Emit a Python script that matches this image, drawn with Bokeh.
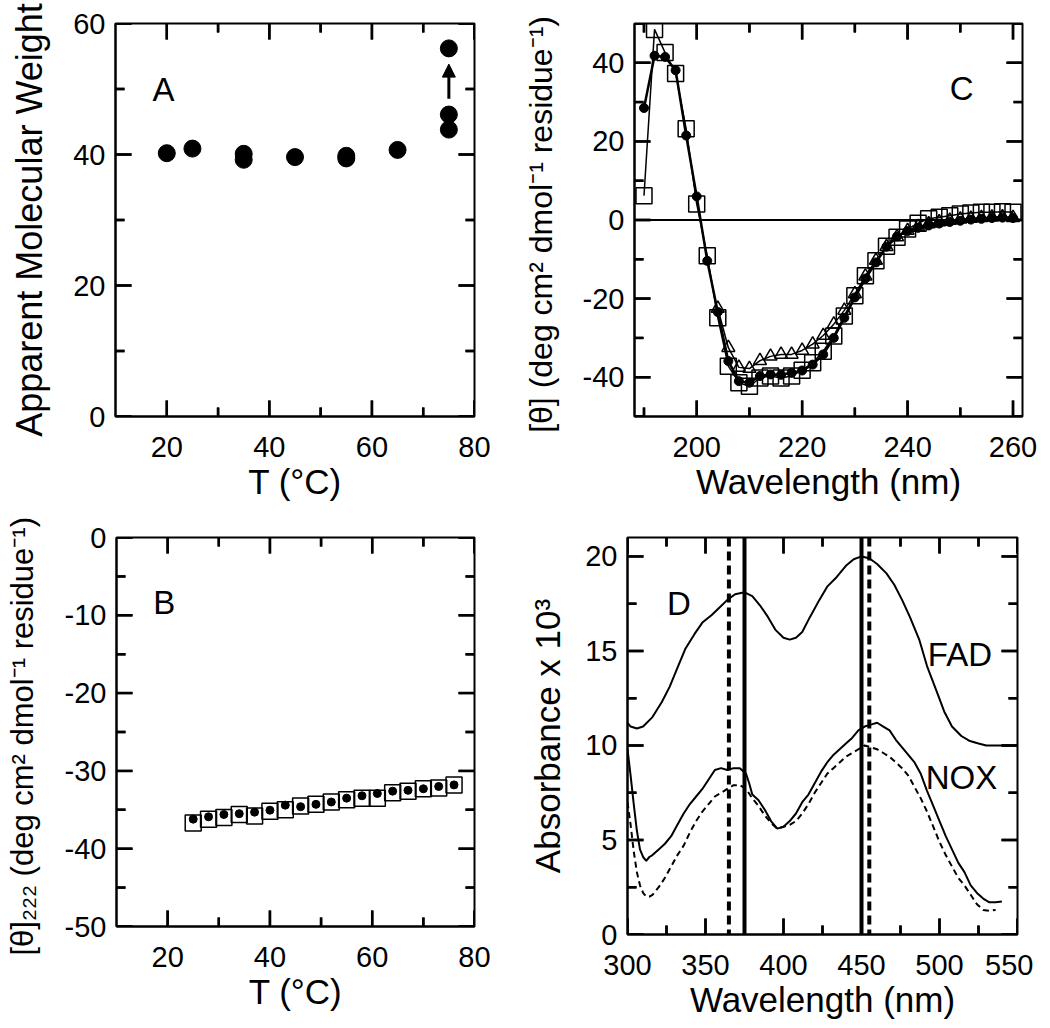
import math
from bokeh.plotting import figure
from bokeh.models import (Range1d, FixedTicker, LinearAxis, Span, Arrow, NormalHead,
                          CustomJSTickFormatter)
from bokeh.layouts import row, column
from bokeh.core.properties import value
from bokeh.embed import file_html
from bokeh.resources import INLINE

FONT = "Liberation Sans"

# ---------------- Panel A data ----------------
a_temp = [20, 25, 35, 35, 45, 55, 55, 65, 75, 75, 75]
a_mw = [40.2, 40.9, 40.1, 39.2, 39.6, 39.8, 39.4, 40.7, 43.8, 46.1, 56.2]
a_arrow_x = [75, 75]
a_arrow_y = [48.5, 53.8]

# ---------------- Panel B data ----------------
b_temp = [25, 28, 31, 34, 37, 40, 43, 46, 49, 52, 55, 58, 61, 64, 67, 70, 73, 76]
b_squares = [-36.7, -36.2, -36.0, -35.6, -35.8, -35.2, -35.0, -34.5, -34.3, -34.0,
             -33.7, -33.5, -33.5, -32.8, -32.6, -32.3, -32.2, -31.8]
b_circles = [-36.2, -35.9, -35.6, -35.5, -35.3, -35.05, -34.4, -34.6, -34.3, -34.0,
             -33.5, -33.2, -32.9, -32.6, -32.5, -32.3, -32.0, -31.8]

# ---------------- Panel C data ----------------
c_wl = [190, 192, 194, 196, 198, 200, 202, 204, 206, 208, 210, 212, 214, 216, 218, 220,
        222, 224, 226, 228, 230, 232, 234, 236, 238, 240, 242, 244, 246, 248, 250, 252,
        254, 256, 258, 260]
c_circles = [28.5, 41.8, 41.5, 38.1, 21.5, 6.0, -10.4, -23.4, -35.9, -41.0, -41.4, -39.7,
             -39.3, -39.4, -38.9, -38.3, -36.8, -34.2, -30.0, -24.9, -19.7, -14.9, -10.8,
             -6.8, -4.2, -2.8, -2.0, -1.4, -0.9, -0.5, -0.2, 0.1, 0.3, 0.5, 0.6, 0.5]
c_squares = [6.2, 48.5, 42.6, 37.3, 23.2, 4.1, -9.1, -24.9, -37.2, -41.4, -42.3, -40.2,
             -39.7, -40.2, -39.7, -38.2, -36.3, -33.4, -29.5, -24.4, -19.3, -14.2, -10.4,
             -6.7, -4.4, -2.3, -0.8, 0.3, 0.7, 1.1, 1.5, 1.8, 2.0, 2.0, 2.1, 2.0]
c_tri_wl = [204, 206, 208, 210, 212, 214, 216, 218, 220, 222, 224, 226, 228, 230, 232,
            234, 236, 238, 240, 242, 244, 246, 248, 250, 252, 254, 256, 258, 260]
c_triangles = [-22.5, -32.5, -37.5, -37.8, -35.8, -34.7, -34.2, -34.2, -33.2, -31.6, -29.4,
               -26.5, -23.0, -18.8, -14.3, -10.3, -6.8, -4.3, -2.7, -1.7, -1.0, -0.5, -0.1,
               0.2, 0.4, 0.6, 0.7, 0.8, 0.6]
c_zero = 0

# ---------------- Panel D data ----------------
fad_wl = [300, 302, 306, 310, 316, 322, 327, 332, 337, 343, 348, 354, 359, 364, 369, 375,
          380, 385, 390, 395, 400, 404, 408, 412, 417, 423, 428, 434, 440, 445, 450, 455,
          460, 466, 471, 476, 481, 487, 492, 498, 503, 508, 514, 519, 525, 530, 540, 550]
fad_abs = [11.2, 11.0, 10.9, 11.0, 11.5, 12.3, 13.1, 14.1, 15.1, 15.9, 16.5, 16.9, 17.3,
           17.7, 18.0, 18.1, 17.9, 17.4, 16.8, 16.1, 15.7, 15.6, 15.7, 16.0, 16.8, 17.7,
           18.4, 18.9, 19.5, 19.85, 20.0, 19.9, 19.6, 19.1, 18.5, 17.7, 16.8, 15.6, 14.2,
           12.9, 11.8, 11.0, 10.5, 10.25, 10.1, 10.0, 10.0, 10.0]
nox_wl = [300, 302, 304, 306, 308, 310, 312, 314, 316, 320, 324, 328, 332, 336, 340, 344,
          348, 352, 356, 360, 364, 368, 372, 376, 378, 380, 384, 388, 392, 396, 400, 404,
          408, 412, 416, 420, 424, 428, 432, 436, 440, 444, 448, 452, 456, 460, 464, 468,
          472, 476, 480, 484, 488, 492, 496, 500, 504, 508, 512, 516, 520, 524, 528, 532,
          536, 540]
nox_abs = [9.8, 8.4, 6.9, 5.5, 4.5, 4.1, 3.9, 4.1, 4.2, 4.5, 4.8, 5.2, 5.8, 6.4, 6.9, 7.3,
           7.7, 8.2, 8.7, 8.8, 8.7, 8.8, 8.8, 8.5, 8.0, 7.4, 7.1, 6.6, 6.0, 5.6, 5.7, 6.0,
           6.4, 7.0, 7.4, 8.0, 8.6, 9.1, 9.5, 9.8, 10.1, 10.4, 10.8, 11.0, 11.1, 11.2, 11.0,
           10.8, 10.3, 9.9, 9.5, 9.1, 8.5, 7.6, 6.8, 6.0, 5.2, 4.5, 3.8, 3.3, 2.6, 2.2, 1.9,
           1.7, 1.7, 1.75]
nox2_wl = [300, 302, 304, 306, 308, 310, 312, 314, 316, 320, 324, 328, 332, 336, 340, 344,
           348, 352, 356, 360, 364, 368, 372, 376, 380, 384, 388, 392, 396, 400, 404, 408,
           412, 416, 420, 424, 428, 432, 436, 440, 444, 448, 452, 456, 460, 464, 468, 472,
           476, 480, 484, 488, 492, 496, 500, 504, 508, 512, 516, 520, 524, 528, 532, 536]
nox2_abs = [7.0, 5.8, 4.4, 3.3, 2.6, 2.2, 2.0, 2.0, 2.1, 2.5, 3.0, 3.6, 4.2, 4.7, 5.4, 6.0,
            6.5, 6.9, 7.3, 7.5, 7.7, 7.9, 7.9, 7.7, 7.2, 6.8, 6.3, 5.9, 5.6, 5.7, 5.8, 6.0,
            6.4, 6.9, 7.5, 8.0, 8.5, 8.8, 9.1, 9.4, 9.6, 9.8, 10.0, 9.9, 9.8, 9.6, 9.4, 9.1,
            8.8, 8.4, 7.8, 7.2, 6.5, 5.7, 4.9, 4.2, 3.6, 3.0, 2.6, 2.1, 1.6, 1.3, 1.25, 1.3]
d_solid_lines = [375, 450]
d_dashed_lines = [365, 455]

# ---------------- Annotation texts ----------------
a_text = {"x": [17.2], "y": [49.9], "text": ["A"]}
b_text = {"x": [17.2], "y": [-8.4], "text": ["B"]}
c_text = {"x": [248.0], "y": [33.4], "text": ["C"]}
d_text = {"x": [325.4, 492.5, 491.2], "y": [17.5, 14.8, 8.3], "text": ["D", "FAD", "NOX"]}

MAJOR_LEN = 16
MINOR_LEN = 9


def add_ticks(p, xr, yr, fw, fh, xt, xm, yt, ym):
    """Inward ticks on all four sides: 'dash' markers centred half a tick inside
    the frame edge, plus thin filled quads as a second layer."""
    dx = (xr[1] - xr[0]) / fw
    dy = (yr[1] - yr[0]) / fh
    cx, cy, ang, sz = [], [], [], []
    ql, qr, qb, qt = [], [], [], []
    for ticks, L in ((xt, MAJOR_LEN), (xm, MINOR_LEN)):
        for t in ticks:
            for edge, sgn in ((yr[0], 1), (yr[1], -1)):
                cx.append(t)
                cy.append(edge + sgn * (L / 2) * dy)
                ang.append(math.pi / 2)
                sz.append(L)
                ql.append(t - 1.2 * dx)
                qr.append(t + 1.2 * dx)
                qb.append(min(edge, edge + sgn * L * dy))
                qt.append(max(edge, edge + sgn * L * dy))
    for ticks, L in ((yt, MAJOR_LEN), (ym, MINOR_LEN)):
        for t in ticks:
            for edge, sgn in ((xr[0], 1), (xr[1], -1)):
                cy.append(t)
                cx.append(edge + sgn * (L / 2) * dx)
                ang.append(0.0)
                sz.append(L)
                qb.append(t - 1.2 * dy)
                qt.append(t + 1.2 * dy)
                ql.append(min(edge, edge + sgn * L * dx))
                qr.append(max(edge, edge + sgn * L * dx))
    p.quad(left=ql, right=qr, bottom=qb, top=qt, fill_color="black", line_color=None)
    p.scatter(x=cx, y=cy, angle=ang, size=sz, marker="dash",
              line_color="black", line_width=2.5)


def make_fig(xr, yr, fw, fh, left, right, top, bottom, xt,
             xlabel, ylabel, yt, ylabel_size="35px", ylabel_standoff=16):
    p = figure(x_range=Range1d(*xr), y_range=Range1d(*yr),
               frame_width=fw, frame_height=fh,
               min_border_left=left, min_border_right=right,
               min_border_top=top, min_border_bottom=bottom,
               output_backend="svg", toolbar_location=None,
               x_axis_location=None, y_axis_location=None)
    p.grid.visible = False
    p.outline_line_color = "black"
    p.outline_line_width = 2
    p.background_fill_color = "white"
    p.border_fill_color = "white"
    for loc in ("below", "left"):
        isx = loc == "below"
        ticks = xt if isx else yt
        ax = LinearAxis(ticker=FixedTicker(ticks=ticks, minor_ticks=[]),
                        formatter=CustomJSTickFormatter(code="return tick.toFixed(0);"))
        ax.major_tick_in = 0
        ax.major_tick_out = 0
        ax.minor_tick_in = 0
        ax.minor_tick_out = 0
        ax.axis_line_width = 2
        ax.major_label_text_font = FONT
        ax.major_label_text_font_size = "29px"
        ax.major_label_text_color = "black"
        ax.major_label_standoff = 20 if isx else 10
        ax.axis_label = xlabel if isx else ylabel
        ax.axis_label_text_font = FONT
        ax.axis_label_text_font_size = "35px" if isx else ylabel_size
        ax.axis_label_text_font_style = "normal"
        ax.axis_label_text_color = "black"
        ax.axis_label_standoff = 2 if isx else ylabel_standoff
        p.add_layout(ax, loc)
    return p


def add_text(p, d):
    p.text(x=d["x"], y=d["y"], text=d["text"], text_font=value(FONT),
           text_font_size="33px", text_align="left", text_baseline="alphabetic",
           text_color="black")


# ---------------- Panel A ----------------
A_X, A_Y = (10, 80), (0, 60)
A_XT, A_XM, A_YT, A_YM = [20, 40, 60, 80], [30, 50, 70], [0, 20, 40, 60], [10, 30, 50]
pA = make_fig(A_X, A_Y, 359, 393, 115, 45, 23, 91, A_XT,
              "T (°C)", "Apparent Molecular Weight", A_YT,
              ylabel_size="36px", ylabel_standoff=20)
pA.scatter(a_temp, a_mw, marker="circle", size=17, color="black")
pA.add_layout(Arrow(end=NormalHead(size=13, fill_color="black", line_color="black"),
                    x_start=a_arrow_x[0], y_start=a_arrow_y[0],
                    x_end=a_arrow_x[1], y_end=a_arrow_y[1],
                    line_width=3, line_color="black"))
add_text(pA, a_text)
add_ticks(pA, A_X, A_Y, 359, 393, A_XT, A_XM, A_YT, A_YM)

# ---------------- Panel C ----------------
C_X, C_Y = (188.2, 261.8), (-50, 50)
C_XT, C_XM = [200, 220, 240, 260], [190, 210, 230, 250]
C_YT, C_YM = [-40, -20, 0, 20, 40], [-50, -30, -10, 10, 30, 50]
pC = make_fig(C_X, C_Y, 388, 393, 110, 16, 23, 91, C_XT,
              "Wavelength (nm)", "[θ]  (deg cm² dmol⁻¹ residue⁻¹)", C_YT,
              ylabel_size="32px", ylabel_standoff=21)
pC.add_layout(Span(location=c_zero, dimension="width", line_color="black", line_width=2))
pC.line(c_wl, c_squares, line_color="black", line_width=1.5)
pC.line(c_tri_wl, c_triangles, line_color="black", line_width=1.5)
pC.line(c_wl, c_circles, line_color="black", line_width=2.5)
pC.scatter(c_wl, c_squares, marker="square", size=16, fill_color=None,
           line_color="black", line_width=1.5)
pC.scatter(c_tri_wl, c_triangles, marker="triangle", size=13, fill_color=None,
           line_color="black", line_width=1.5)
pC.scatter(c_wl, c_circles, marker="circle", size=9, color="black")
add_text(pC, c_text)
add_ticks(pC, C_X, C_Y, 388, 393, C_XT, C_XM, C_YT, C_YM)

# ---------------- Panel B ----------------
B_X, B_Y = (10, 80), (-50, 0)
B_XT, B_XM = [20, 40, 60, 80], [30, 50, 70]
B_YT, B_YM = [0, -10, -20, -30, -40, -50], [-5, -15, -25, -35, -45]
pB = make_fig(B_X, B_Y, 358, 389, 116, 45, 30, 94, B_XT,
              "T (°C)", "[θ]₂₂₂  (deg cm² dmol⁻¹ residue⁻¹)", B_YT,
              ylabel_size="31px", ylabel_standoff=22)
pB.scatter(b_temp, b_squares, marker="square", size=16, fill_color=None,
           line_color="black", line_width=1.5)
pB.scatter(b_temp, b_circles, marker="circle", size=8, color="black")
add_text(pB, b_text)
add_ticks(pB, B_X, B_Y, 358, 389, B_XT, B_XM, B_YT, B_YM)

# ---------------- Panel D ----------------
D_X, D_Y = (300, 550), (0, 21)
D_XT, D_XM = [300, 350, 400, 450, 500, 550], [325, 375, 425, 475, 525]
D_YT, D_YM = [0, 5, 10, 15, 20], [2.5, 7.5, 12.5, 17.5]
pD = make_fig(D_X, D_Y, 390, 397, 108, 16, 30, 85, D_XT,
              "Wavelength (nm)", "Absorbance x 10³", D_YT, ylabel_standoff=15)
for loc in d_solid_lines:
    pD.add_layout(Span(location=loc, dimension="height", line_color="black", line_width=4))
for loc in d_dashed_lines:
    pD.add_layout(Span(location=loc, dimension="height", line_color="black", line_width=4,
                       line_dash="9 5"))
pD.line(fad_wl, fad_abs, line_color="black", line_width=2)
pD.line(nox_wl, nox_abs, line_color="black", line_width=2)
pD.line(nox2_wl, nox2_abs, line_color="black", line_width=2, line_dash="6 4")
add_text(pD, d_text)
add_ticks(pD, D_X, D_Y, 390, 397, D_XT, D_XM, D_YT, D_YM)

layout = column(row(pA, pC), row(pB, pD))
open("out.html", "w").write(file_html(layout, INLINE))
